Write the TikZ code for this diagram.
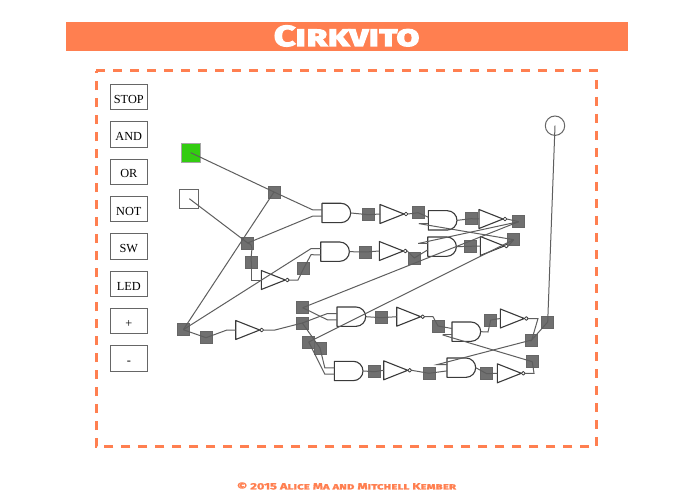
\documentclass[tikz,border=0pt]{standalone}
\usepackage{fontspec}
\setmainfont{Liberation Serif}
\newfontfamily\titlefont{Fira Sans}[Letters=SmallCaps,FakeStretch=1.31,BoldFeatures={FakeBold=4}]
\newfontfamily\footfont{Fira Sans}[Letters=SmallCaps,FakeStretch=1.39,BoldFeatures={FakeBold=1.5}]
\definecolor{coral}{HTML}{FF7F50}
\definecolor{wirec}{HTML}{5E5E5E}
\definecolor{jfill}{HTML}{707070}
\definecolor{edgec}{HTML}{666666}
\definecolor{gatec}{HTML}{3A3A3A}
\definecolor{ledon}{HTML}{33CC11}
\tikzset{
  btn/.style={draw=edgec,line width=1pt,fill=white,minimum width=37.6pt,minimum height=25.3pt,inner sep=0pt,text height=12pt,text depth=0pt,font=\fontsize{12.3}{14}\selectfont},
  junc/.style={draw=edgec,line width=0.5pt,fill=jfill,minimum size=12pt,inner sep=0pt},
  wire/.style={draw=wirec,line width=1pt},
  gate/.style={draw=gatec,line width=1.1pt,fill=none,line join=round},
  swbox/.style={draw=edgec,line width=1pt,fill=white,minimum size=19pt,inner sep=0pt},
  ledbox/.style={draw=gray!70,line width=0.8pt,fill=ledon,minimum size=19pt,inner sep=0pt},
  ledround/.style={circle,draw=edgec,line width=1pt,fill=white,minimum size=19.4pt,inner sep=0pt},
}
% AND gate: name, left x, top y
\newcommand{\andg}[3]{%
  \draw[gate] (#2,#3) -- ++(19,0) arc[start angle=-90,end angle=90,radius=9.67] -- (#2,#3+19.34) -- cycle;
  \coordinate (#1-a) at (#2,#3+6.5);
  \coordinate (#1-b) at (#2,#3+12.9);
  \coordinate (#1-as) at (#2-9.5,#3+6.5);
  \coordinate (#1-bs) at (#2-9.5,#3+12.9);
  \coordinate (#1-o) at (#2+28.7,#3+9.67);
}
% NOT gate: name, left x, centre y
\newcommand{\notg}[3]{%
  \draw[gate] (#2,#3-9.5) -- (#2+24,#3) -- (#2,#3+9.5) -- cycle;
  \draw[gate,fill=white,line width=0.8pt] (#2+26,#3) circle[radius=1.9];
  \coordinate (#1-i) at (#2,#3);
  \coordinate (#1-o) at (#2+27.9,#3);
}
\begin{document}
\begin{tikzpicture}[x=1pt,y=-1pt]
\useasboundingbox (0,0) rectangle (695,494);
\fill[white] (0,0) rectangle (695,494);
\fill[coral] (65.5,21.8) rectangle (627.7,50.7);
\node[text=white,anchor=base,font=\titlefont\bfseries\fontsize{29}{32}\selectfont,inner sep=0pt] (title) at (346.7,46) {Cirkvito};
\draw[coral,line width=3pt,dash pattern=on 9pt off 8pt] (96,70.7) -- (596.7,70.7) -- (596.7,446.7) -- (96,446.7) -- cycle;
\node[text=coral,font=\footfont\bfseries\fontsize{9.2}{11}\selectfont,inner sep=0pt] (foot) at (346.5,486) {© 2015 Alice Ma and Mitchell Kember};
% buttons
\node[btn] (bstop) at (128.8,97.3) {STOP};
\node[btn] (band) at (128.8,134.6) {AND};
\node[btn] (bor) at (128.8,172) {OR};
\node[btn] (bnot) at (128.8,209.3) {NOT};
\node[btn] (bsw) at (128.8,246.6) {SW};
\node[btn] (bled) at (128.8,284) {LED};
\node[btn] (bplus) at (128.8,321.3) {+};
\node[btn] (bminus) at (128.8,358.6) {-};
% inputs / outputs
\node[ledbox] (in1) at (190.7,152.7) {};
\node[swbox] (in2) at (189.3,198.7) {};
\node[ledround] (out) at (555,125.7) {};
% gates
\andg{g1}{322}{203.3}
\andg{g2}{320.7}{242}
\andg{g3}{337}{307}
\andg{g4}{334.3}{361.3}
\andg{g5}{452}{322}
\andg{g6}{447}{358}
\andg{g7}{428.3}{210.7}
\andg{g8}{427.7}{237}
\notg{na}{261.3}{280}
\notg{nb}{235.7}{330}
\notg{nc}{396.7}{316.7}
\notg{nd}{383.7}{370.3}
\notg{ne}{500.3}{318.5}
\notg{nf}{497.3}{373.3}
\notg{ng}{380}{214}
\notg{nh}{479}{219}
\notg{ni}{379.3}{251}
\notg{nj}{480.3}{246}
% junctions
\foreach \n/\x/\y in {j1/274/192,j2/247.7/243,j3/251.3/262,j4/303.7/268.3,j5/183.3/329.7,j6/206/337.7,j7/302.7/307.7,j8/302.3/323,j9/308.7/342,j10/320/348,j11/381.3/317.7,j12/438/326,j13/374.3/371.7,j14/429/373.3,j15/490.7/320,j16/547.7/322,j17/531.7/340,j18/532.3/361.7,j19/486.7/373.7,j20/368.3/214.7,j21/418/212.7,j22/471/218.7,j23/518.7/221.7,j24/365.7/252,j25/414.3/258,j26/470/246.3,j27/513.7/239.7}
  \node[junc] (\n) at (\x,\y) {};
% bends
\coordinate (c3) at (251.3,280);
\coordinate (c4) at (298,280);
\coordinate (c4b) at (311,254.7);
\coordinate (c6) at (227,330);
\coordinate (c8) at (275,330);
\coordinate (c12) at (433,316.7);
\coordinate (c15) at (488,332);
\coordinate (c17) at (538,318.5);
\coordinate (c18) at (534,373.3);
% wiring
\draw[wire] (in1.center) -- (j1.center) -- (g1-as) -- (g1-a);
\draw[wire] (in2.center) -- (j2.center) -- (g1-bs) -- (g1-b);
\draw[wire] (j2.center) to[out=-10,in=100] (j3.center);
\draw[wire] (j3.center) -- (c3) -- (na-i);
\draw[wire] (na-o) -- (c4) -- (j4.center) -- (c4b) -- (g2-b);
\draw[wire] (j5.center) -- (j1.center);
\draw[wire] (j5.center) -- (g2-as) -- (g2-a);
\draw[wire] (j5.center) -- (j6.center) -- (c6) -- (nb-i);
\draw[wire] (nb-o) -- (c8) -- (j8.center) -- (g3-as) -- (g3-a);
\draw[wire] (j7.center) -- (g3-bs) -- (g3-b);
\draw[wire] (j7.center) -- (j23.center);
\draw[wire] (j9.center) -- (j27.center);
\draw[wire] (j8.center) -- (j10.center) -- (g4-as) -- (g4-a);
\draw[wire] (j9.center) -- (g4-bs) -- (g4-b);
\draw[wire] (g1-o) -- (j20.center) -- (ng-i);
\draw[wire] (ng-o) -- (j21.center) -- (g7-a);
\draw[wire] (g7-bs) -- (g7-b);
\draw[wire] (g7-o) -- (j22.center) -- (nh-i);
\draw[wire] (nh-o) -- (j23.center);
\draw[wire] (g7-bs) -- (j27.center);
\draw[wire] (g2-o) -- (j24.center) -- (ni-i);
\draw[wire] (ni-o) -- (j25.center) -- (g8-b);
\draw[wire] (g8-as) -- (g8-a);
\draw[wire] (g8-as) -- (j23.center);
\draw[wire] (g8-o) -- (j26.center) -- (nj-i);
\draw[wire] (nj-o) -- (j27.center);
\draw[wire] (g3-o) -- (j11.center) -- (nc-i);
\draw[wire] (nc-o) -- (c12) -- (j12.center) -- (g5-a);
\draw[wire] (g5-bs) -- (g5-b);
\draw[wire] (g5-bs) -- (j18.center);
\draw[wire] (g5-o) -- (c15) -- (j15.center) -- (ne-i);
\draw[wire] (ne-o) -- (c17) -- (j17.center) -- (j16.center) -- (out.center);
\draw[wire] (j17.center) -- (g6-as) -- (g6-a);
\draw[wire] (g4-o) -- (j13.center) -- (nd-i);
\draw[wire] (nd-o) -- (j14.center) -- (g6-b);
\draw[wire] (g6-o) -- (j19.center) -- (nf-i);
\draw[wire] (nf-o) -- (c18) -- (j18.center);
\end{tikzpicture}
\end{document}
